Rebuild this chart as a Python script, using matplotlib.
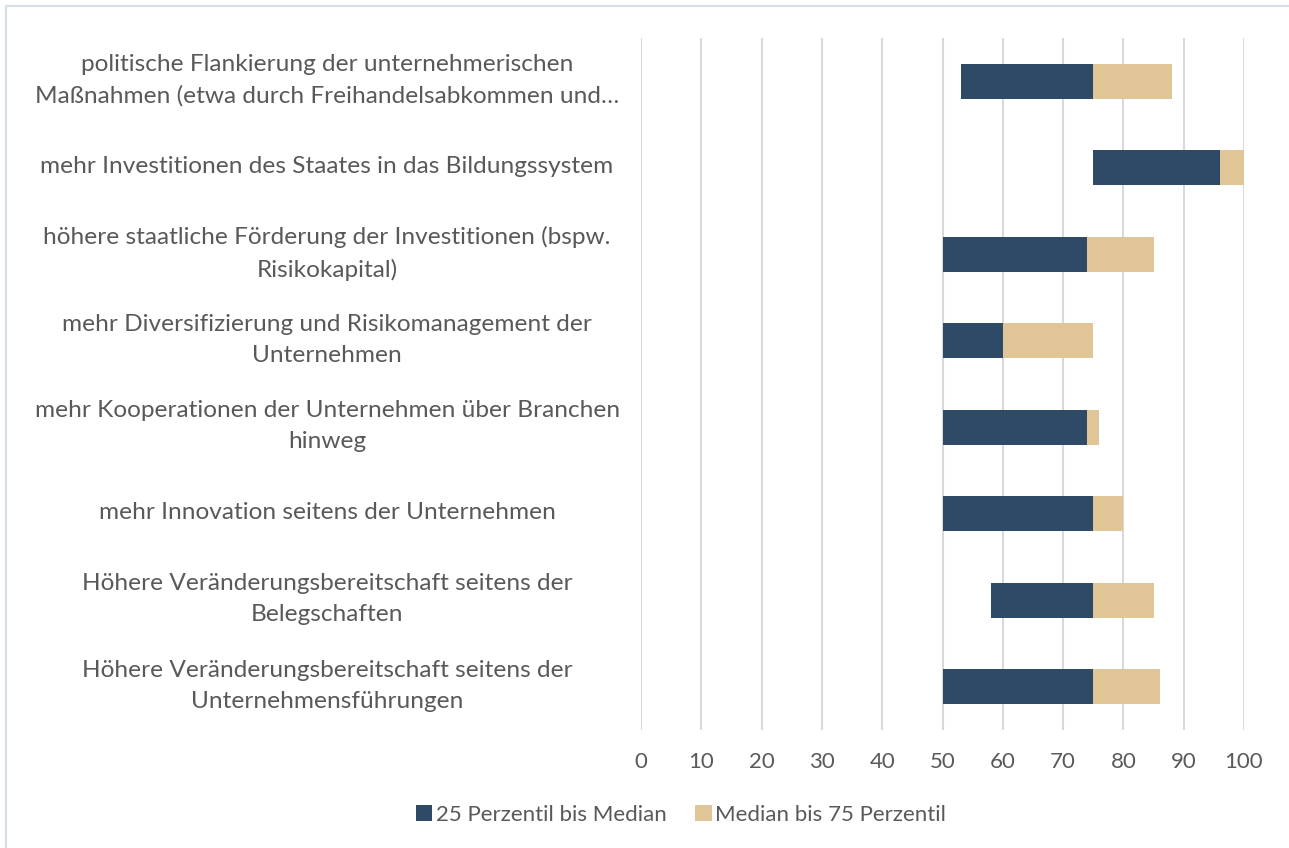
import matplotlib.pyplot as plt
from matplotlib.patches import Rectangle
from matplotlib.transforms import ScaledTranslation

plt.rcParams['font.family'] = ['Lato', 'DejaVu Sans']

# Kategorien von unten nach oben
kategorien = [
    'Höhere Veränderungsbereitschaft seitens der\nUnternehmensführungen',
    'Höhere Veränderungsbereitschaft seitens der\nBelegschaften',
    'mehr Innovation seitens der Unternehmen',
    'mehr Kooperationen der Unternehmen über Branchen\nhinweg',
    'mehr Diversifizierung und Risikomanagement der\nUnternehmen',
    'höhere staatliche Förderung der Investitionen (bspw.\nRisikokapital)',
    'mehr Investitionen des Staates in das Bildungssystem',
    'politische Flankierung der unternehmerischen\nMaßnahmen (etwa durch Freihandelsabkommen und…',
]
p25 = [50, 58, 50, 50, 50, 50, 75, 53]
median = [75, 75, 75, 74, 60, 74, 96, 75]
p75 = [86, 85, 80, 76, 75, 85, 100, 88]

dunkel = '#2E4A66'
beige = '#E0C596'
grau = '#595959'

W, H = 1289, 848
fig = plt.figure(figsize=(W / 100, H / 100), dpi=100)
ax = fig.add_axes([641 / W, 1 - 730 / H, 603 / W, 692 / H])

y = range(len(kategorien))
unten = [m - a for a, m in zip(p25, median)]
oben = [b - m for m, b in zip(median, p75)]
ax.barh(y, unten, left=p25, height=0.4, color=dunkel, label='25 Perzentil bis Median', zorder=3)
ax.barh(y, oben, left=median, height=0.4, color=beige, label='Median bis 75 Perzentil', zorder=3)

ax.set_xlim(0, 100)
ax.set_ylim(-0.5, len(kategorien) - 0.5)
ax.set_xticks(range(0, 101, 10))
ax.grid(axis='x', color='#D9D9D9', linewidth=1.5, zorder=0)
for s in ax.spines.values():
    s.set_visible(False)

ax.set_yticks(list(y))
ax.set_yticklabels(kategorien, ha='center', multialignment='center', linespacing=1.6)
ax.tick_params(axis='y', length=0, pad=226, labelsize=17.6, labelcolor=grau)
ax.tick_params(axis='x', length=0, pad=16, labelsize=16, labelcolor=grau)
for t in ax.get_yticklabels():
    dy = 8 if '\n' in t.get_text() else 3
    t.set_transform(t.get_transform() + ScaledTranslation(0, dy / 100, fig.dpi_scale_trans))

fig.legend(loc='center', bbox_to_anchor=(681 / W, 1 - 815 / H), ncol=2, frameon=False,
           fontsize=16, labelcolor=grau, handlelength=0.75, handleheight=0.75,
           handletextpad=0.15, columnspacing=1.3)

fig.add_artist(Rectangle((6 / W, -0.1), 1.2, 1 - 6 / H + 0.1, transform=fig.transFigure,
                         fill=False, edgecolor='#D6DEE8', linewidth=1.5))

fig.savefig('out.png', dpi=100)
